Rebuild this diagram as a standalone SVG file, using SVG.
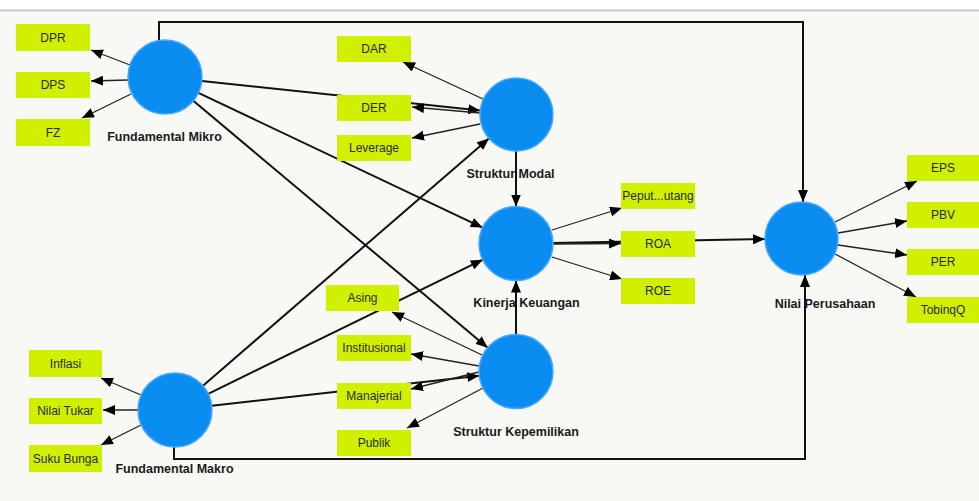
<svg xmlns="http://www.w3.org/2000/svg" width="979" height="501" viewBox="0 0 979 501">
<style>
.bg{fill:#f8f8f5}
.box{fill:#d0f000}
.bt{font-family:"Liberation Sans",Arial,sans-serif;font-size:12px;fill:#2a2a2a;text-anchor:middle}
.lv{fill:#0a8cf0;stroke:#45aaff;stroke-width:1.5}
.lb{font-family:"Liberation Sans",Arial,sans-serif;font-size:12.5px;font-weight:bold;fill:#1a1a1a;text-anchor:middle}
.p{stroke:#111;stroke-width:2;fill:none;marker-end:url(#ah)}
.o{stroke:#111;stroke-width:2;fill:none}
.i{stroke:#222;stroke-width:1.3;fill:none;marker-end:url(#ah)}
</style>
<defs>
<marker id="ah" markerUnits="userSpaceOnUse" markerWidth="13" markerHeight="10" refX="12" refY="5" orient="auto">
<path d="M0,0 L12,5 L0,10 z" fill="#000"/>
</marker>
</defs>
<rect x="0" y="0" width="979" height="501" class="bg"/>
<rect x="0" y="0" width="979" height="9.5" fill="#ffffff"/>
<rect x="0" y="9.5" width="979" height="2" fill="#c8c8c8"/>

<g id="connectors">
<polyline class="p" points="159,40.5 159,22 803,22 803,202"/>
<polyline class="p" points="174,447 174,459 805,459 805,275"/>
<line class="p" x1="201.8" y1="80.9" x2="480.2" y2="110.6"/>
<line class="p" x1="198.4" y1="92.9" x2="482.6" y2="227.6"/>
<line class="p" x1="193.3" y1="100.8" x2="487.7" y2="347.7"/>
<line class="p" x1="203" y1="385.8" x2="488.9" y2="138.4"/>
<line class="p" x1="208.2" y1="393.8" x2="482.8" y2="259.7"/>
<line class="p" x1="211.8" y1="405.8" x2="479.2" y2="375.7"/>
<line class="p" x1="516" y1="151" x2="516" y2="206.5"/>
<line class="p" x1="516" y1="334.5" x2="516" y2="280.5"/>
<line class="p" x1="553" y1="242.9" x2="765" y2="239.1"/>
<line class="i" x1="130" y1="65" x2="91" y2="50"/>
<line class="i" x1="128" y1="80" x2="91" y2="81"/>
<line class="i" x1="131" y1="94" x2="82" y2="118"/>
<line class="i" x1="483" y1="99" x2="403" y2="62"/>
<line class="i" x1="480" y1="113" x2="412" y2="107"/>
<line class="i" x1="480" y1="124" x2="412" y2="138"/>
<line class="i" x1="552" y1="230" x2="622" y2="208"/>
<line class="i" x1="553" y1="244" x2="621" y2="243.5"/>
<line class="i" x1="552" y1="257" x2="622" y2="279"/>
<line class="i" x1="835" y1="222" x2="917" y2="181"/>
<line class="i" x1="838" y1="233" x2="907" y2="221"/>
<line class="i" x1="838" y1="245" x2="907" y2="255"/>
<line class="i" x1="835" y1="254" x2="916" y2="297"/>
<line class="i" x1="482" y1="355" x2="392" y2="312"/>
<line class="i" x1="479" y1="366" x2="411" y2="354"/>
<line class="i" x1="479" y1="372" x2="411" y2="389"/>
<line class="i" x1="483" y1="388" x2="407" y2="428"/>
<line class="i" x1="141" y1="395" x2="101" y2="378"/>
<line class="i" x1="138" y1="410" x2="103" y2="410"/>
<line class="i" x1="141" y1="425" x2="101" y2="445"/>
</g>

<g id="fundamental-mikro">
<circle class="lv" cx="165" cy="77" r="37"/>
<text class="lb" x="164.5" y="140.5">Fundamental Mikro</text>
</g>
<g id="fundamental-makro">
<circle class="lv" cx="175" cy="410" r="37"/>
<text class="lb" x="174.5" y="472.5">Fundamental Makro</text>
</g>
<g id="struktur-modal">
<circle class="lv" cx="516.5" cy="114.5" r="36.5"/>
<text class="lb" x="510.5" y="177.5">Struktur Modal</text>
</g>
<g id="kinerja-keuangan">
<circle class="lv" cx="516" cy="243.5" r="37"/>
<text class="lb" x="526.5" y="306.5">Kinerja Keuangan</text>
</g>
<g id="struktur-kepemilikan">
<circle class="lv" cx="516" cy="371.5" r="37"/>
<text class="lb" x="516" y="435.5">Struktur Kepemilikan</text>
</g>
<g id="nilai-perusahaan">
<circle class="lv" cx="801.5" cy="238.5" r="36.5"/>
<text class="lb" x="825" y="307.5">Nilai Perusahaan</text>
</g>

<g id="dpr"><rect class="box" x="16" y="24" width="74" height="27"/><text class="bt" x="53" y="41.5">DPR</text></g>
<g id="dps"><rect class="box" x="16" y="72" width="74" height="26"/><text class="bt" x="53" y="89">DPS</text></g>
<g id="fz"><rect class="box" x="16" y="119" width="74" height="27"/><text class="bt" x="53" y="136.5">FZ</text></g>
<g id="dar"><rect class="box" x="337" y="36" width="74" height="26"/><text class="bt" x="374" y="53">DAR</text></g>
<g id="der"><rect class="box" x="337" y="95" width="74" height="26"/><text class="bt" x="374" y="112">DER</text></g>
<g id="leverage"><rect class="box" x="337" y="135" width="74" height="26"/><text class="bt" x="374" y="152">Leverage</text></g>
<g id="peputaran-piutang"><rect class="box" x="621" y="183" width="74" height="26"/><text class="bt" x="658" y="200">Peput...utang</text></g>
<g id="roa"><rect class="box" x="621" y="231" width="74" height="26"/><text class="bt" x="658" y="248">ROA</text></g>
<g id="roe"><rect class="box" x="621" y="278" width="74" height="26"/><text class="bt" x="658" y="295">ROE</text></g>
<g id="eps"><rect class="box" x="907" y="155" width="74" height="26"/><text class="bt" x="943" y="172">EPS</text></g>
<g id="pbv"><rect class="box" x="907" y="202" width="74" height="26"/><text class="bt" x="943" y="219">PBV</text></g>
<g id="per"><rect class="box" x="907" y="249" width="74" height="26"/><text class="bt" x="943" y="266">PER</text></g>
<g id="tobinq"><rect class="box" x="907" y="297" width="74" height="26"/><text class="bt" x="943" y="314">TobinqQ</text></g>
<g id="asing"><rect class="box" x="326" y="285" width="73" height="26"/><text class="bt" x="362.5" y="302">Asing</text></g>
<g id="institusional"><rect class="box" x="337" y="335" width="74" height="26"/><text class="bt" x="374" y="352">Institusional</text></g>
<g id="manajerial"><rect class="box" x="337" y="383" width="74" height="26"/><text class="bt" x="374" y="400">Manajerial</text></g>
<g id="publik"><rect class="box" x="337" y="430" width="74" height="26"/><text class="bt" x="374" y="447">Publik</text></g>
<g id="inflasi"><rect class="box" x="29" y="350" width="73" height="27"/><text class="bt" x="65.5" y="367.5">Inflasi</text></g>
<g id="nilai-tukar"><rect class="box" x="29" y="398" width="73" height="26"/><text class="bt" x="65.5" y="415">Nilai Tukar</text></g>
<g id="suku-bunga"><rect class="box" x="29" y="445" width="73" height="27"/><text class="bt" x="65.5" y="462.5">Suku Bunga</text></g>
</svg>
